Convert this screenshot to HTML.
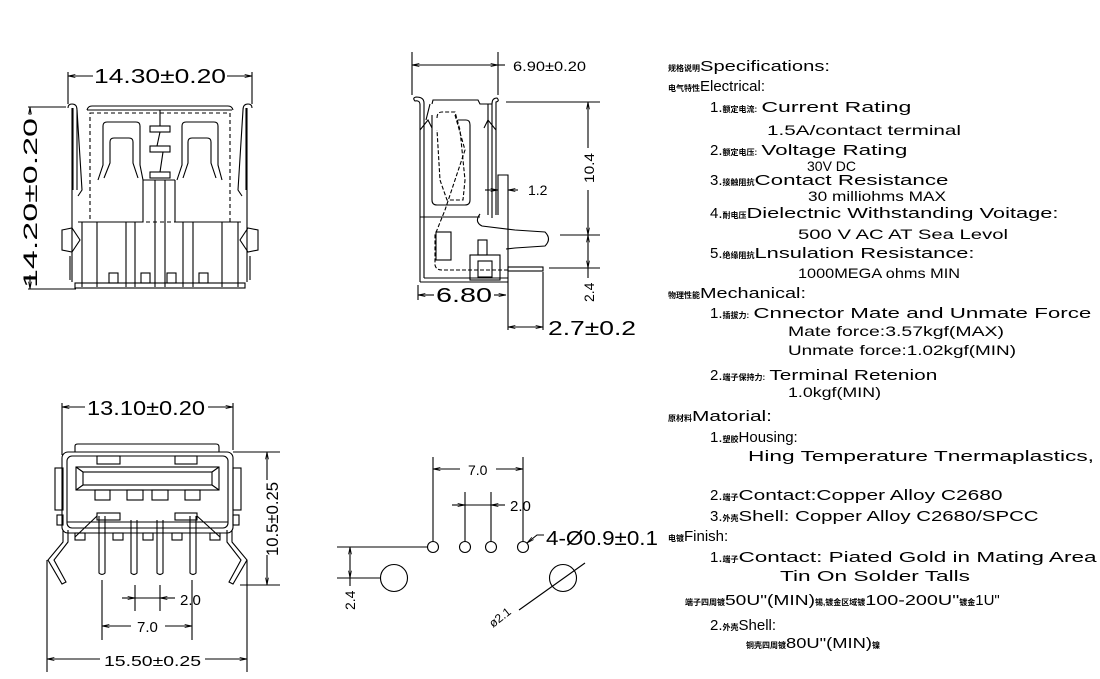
<!DOCTYPE html>
<html><head><meta charset="utf-8"><style>
html,body{margin:0;padding:0;background:#fff;}
svg{display:block;}
text{font-family:"Liberation Sans","Noto Sans CJK SC",sans-serif;fill:#000;}
.c{font-family:"Liberation Sans","Noto Sans CJK SC",sans-serif;font-weight:bold;}
</style></head><body>
<svg width="1100" height="679" viewBox="0 0 1100 679" xmlns="http://www.w3.org/2000/svg">
<defs>
<marker id="a" viewBox="0 0 10 6" refX="10" refY="3" markerWidth="8" markerHeight="4" orient="auto-start-reverse"><path d="M0,1 L10,3 L0,5" fill="none" stroke="#000" stroke-width="1"/></marker>
</defs>
<g fill="none" stroke="#000" stroke-width="1.1">
<!-- ===== top-left view ===== -->
<line x1="68" y1="72" x2="68" y2="104"/><line x1="252" y1="72" x2="252" y2="104"/>
<line x1="68" y1="76" x2="93" y2="76" marker-start="url(#a)"/><line x1="227" y1="76" x2="252" y2="76" marker-end="url(#a)"/>
<line x1="28" y1="107" x2="66" y2="107"/><line x1="28" y1="289" x2="76" y2="289"/>
<line x1="30" y1="107" x2="30" y2="115" marker-start="url(#a)"/><line x1="30" y1="275" x2="30" y2="289" marker-end="url(#a)"/>
<path d="M68,108 Q68,104 72,104 Q77,104 77,110 L77,190 M87,110 Q88,106 92,106 L228,106 Q232,106 233,110 M243,110 Q243,104 248,104 Q252,104 252,108"/>
<path d="M72,108 L72,282 M77,110 L82,190 L78,196 M73,108 L73,190"/>
<path d="M247,108 L247,282 M243,110 L238,190 L242,196 M246,108 L246,190"/>
<path d="M87,110 L232,110"/>
<rect x="90" y="113" width="140" height="109" stroke-dasharray="4,3"/>
<path d="M78,222 L143,222 L143,180 M175,180 L175,222 L241,222"/>
<path d="M143,180 L175,180 M155,180 L155,287 M165,180 L165,287"/>
<path d="M82,222 L82,287 M97,222 L97,287 M126,222 L126,287 M135,222 L135,287 M183,222 L183,287 M193,222 L193,287 M222,222 L222,287 M238,222 L238,287"/>
<rect x="75" y="283" width="170" height="5"/>
<rect x="109" y="273" width="9" height="10"/><rect x="141" y="273" width="9" height="10"/><rect x="167" y="273" width="9" height="10"/><rect x="199" y="273" width="9" height="10"/>
<path d="M98,180 L103,165 L103,126 Q103,122 107,122 L136,122 Q140,122 140,126 L140,165 L143,180"/>
<path d="M104,178 L110,163 L110,142 Q110,138 114,138 L129,138 Q133,138 133,142 L133,163 L138,178"/>
<path d="M177,180 L182,165 L182,126 Q182,122 186,122 L214,122 Q218,122 218,126 L218,165 L222,180"/>
<path d="M183,178 L188,163 L188,142 Q188,138 192,138 L207,138 Q211,138 211,142 L211,163 L216,178"/>
<rect x="150" y="126" width="20" height="6"/><rect x="150" y="146" width="20" height="6"/><rect x="150" y="172" width="20" height="6"/>
<path d="M160,110 L160,126 M160,132 L157,146 M163,152 L160,172"/>
<path d="M62,230 L72,228 L80,240 L72,252 L62,250 Z M248,228 L258,230 L258,250 L248,252 L240,240 Z"/>
<path d="M70,256 L70,280 M250,256 L250,280"/>
<!-- ===== side view ===== -->
<line x1="412" y1="52" x2="412" y2="95"/><line x1="498" y1="52" x2="498" y2="95"/>
<line x1="412" y1="65" x2="498" y2="65" marker-start="url(#a)" marker-end="url(#a)"/>
<line x1="498" y1="65" x2="505" y2="65"/>
<path d="M420,282 L420,105 Q420,100 415,101 Q412,98 416,97 Q424,97 424,103 L424,278"/>
<path d="M432,104 L433,100 L478,100 L480,104 L492,104 Q492,98 497,98 Q500,101 496,102 L496,215 M492,104 L492,218"/>
<path d="M426,120 L430,104 M488,104 L488,215"/>
<path d="M420,130 L428,120 L432,128 M496,130 L488,120 L484,128"/>
<path d="M498,215 L498,175 L508,175 L508,285"/>
<path d="M480,214 Q474,222 482,226 L515,230 L545,232 Q552,239 545,246 L515,248 L506,249"/>
<line x1="420" y1="282" x2="508" y2="282"/><line x1="424" y1="278" x2="508" y2="278"/>
<path d="M432,115 L432,200 Q432,205 437,205 L465,205 Q470,205 470,200 L470,125 Q470,120 466,120 L458,120"/>
<path d="M437,118 Q437,112 442,112 L455,112 L460,130 L465,180 L463,200 L447,200 L440,180 L437,130" stroke-dasharray="4,2"/>
<path d="M455,115 L465,150 L445,210 L435,235 L435,265 Q436,270 442,270 L508,270" stroke-dasharray="4,2"/>
<line x1="420" y1="217" x2="480" y2="217"/>
<rect x="436" y="232" width="15" height="28"/>
<rect x="470" y="255" width="30" height="25"/><rect x="478" y="240" width="9" height="15"/><rect x="478" y="261" width="14" height="16"/>
<rect x="508" y="267" width="35" height="4"/>
<line x1="506" y1="102" x2="600" y2="102"/><line x1="560" y1="235" x2="600" y2="235"/><line x1="549" y1="268" x2="600" y2="268"/>
<line x1="588" y1="102" x2="588" y2="148" marker-start="url(#a)"/><line x1="588" y1="190" x2="588" y2="235" marker-end="url(#a)"/>
<line x1="588" y1="235" x2="588" y2="268" marker-start="url(#a)" marker-end="url(#a)"/><line x1="588" y1="268" x2="588" y2="278"/>
<line x1="485" y1="190" x2="498" y2="190" marker-end="url(#a)"/><line x1="508" y1="190" x2="518" y2="190" marker-start="url(#a)"/>
<line x1="418" y1="285" x2="418" y2="300"/>
<line x1="418" y1="295" x2="434" y2="295" marker-start="url(#a)"/><line x1="494" y1="295" x2="506" y2="295" marker-end="url(#a)"/>
<line x1="508" y1="285" x2="508" y2="330"/><line x1="543" y1="272" x2="543" y2="330"/>
<line x1="508" y1="327" x2="543" y2="327" marker-start="url(#a)" marker-end="url(#a)"/>
<!-- ===== front view ===== -->
<line x1="62" y1="403" x2="62" y2="455"/><line x1="233" y1="403" x2="233" y2="450"/>
<line x1="62" y1="407" x2="85" y2="407" marker-start="url(#a)"/><line x1="208" y1="407" x2="233" y2="407" marker-end="url(#a)"/>
<path d="M75,452 L75,446 Q75,444 78,444 L216,444 Q219,444 219,447 L219,452"/>
<rect x="62" y="452" width="171" height="81" rx="6"/>
<rect x="67" y="456" width="161" height="72" rx="5"/>
<rect x="76" y="467" width="143" height="23"/><rect x="83" y="472" width="129" height="13"/>
<path d="M76,467 L83,472 M219,467 L212,472 M76,490 L83,485 M219,490 L212,485"/>
<rect x="95" y="490" width="15" height="10"/><rect x="127" y="490" width="16" height="10"/><rect x="152" y="490" width="16" height="10"/><rect x="185" y="490" width="15" height="10"/>
<rect x="97" y="456" width="23" height="8"/><rect x="175" y="456" width="22" height="8"/>
<rect x="97" y="513" width="23" height="7"/><rect x="175" y="513" width="22" height="7"/>
<path d="M97,516 L75,537 M197,516 L220,537"/>
<line x1="67" y1="522" x2="228" y2="522"/>
<rect x="55" y="468" width="8" height="42"/><rect x="233" y="468" width="8" height="42"/>
<rect x="57" y="515" width="6" height="10"/><rect x="233" y="515" width="6" height="10"/>
<path d="M99,516 L99,573 Q102,576 105,573 L105,516 M131,520 L131,573 Q134,576 137,573 L137,520 M157,520 L157,573 Q160,576 163,573 L163,520 M190,516 L190,573 Q193,576 196,573 L196,516"/>
<rect x="75" y="533" width="10" height="7"/><rect x="113" y="533" width="10" height="7"/><rect x="143" y="533" width="10" height="7"/><rect x="172" y="533" width="10" height="7"/><rect x="210" y="533" width="10" height="7"/>
<path d="M63,530 L63,542 L48,560 L62,584 L66,582 L54,560 L68,542 L68,530"/>
<path d="M232,530 L232,542 L247,560 L233,584 L229,582 L241,560 L227,542 L227,530"/>
<line x1="233" y1="452" x2="280" y2="452"/><line x1="240" y1="585" x2="280" y2="585"/>
<line x1="267" y1="452" x2="267" y2="480" marker-start="url(#a)"/><line x1="267" y1="555" x2="267" y2="585" marker-end="url(#a)"/>
<line x1="102" y1="580" x2="102" y2="640"/><line x1="192" y1="580" x2="192" y2="640"/>
<line x1="135" y1="585" x2="135" y2="611"/><line x1="160" y1="585" x2="160" y2="611"/>
<line x1="122" y1="598" x2="135" y2="598" marker-end="url(#a)"/><line x1="135" y1="598" x2="160" y2="598"/><line x1="160" y1="598" x2="175" y2="598" marker-start="url(#a)"/>
<line x1="102" y1="626" x2="131" y2="626" marker-start="url(#a)"/><line x1="165" y1="626" x2="192" y2="626" marker-end="url(#a)"/>
<line x1="47" y1="560" x2="47" y2="672"/><line x1="247" y1="560" x2="247" y2="672"/>
<line x1="47" y1="659" x2="100" y2="659" marker-start="url(#a)"/><line x1="205" y1="659" x2="247" y2="659" marker-end="url(#a)"/>
<!-- ===== footprint ===== -->
<circle cx="433" cy="547" r="5.5"/><circle cx="465" cy="547" r="5.5"/><circle cx="491" cy="547" r="5.5"/><circle cx="523" cy="547" r="5.5"/>
<circle cx="394" cy="578" r="13.5"/><circle cx="563" cy="578" r="13.5"/>
<line x1="433" y1="457" x2="433" y2="541"/><line x1="523" y1="457" x2="523" y2="541"/>
<line x1="465" y1="492" x2="465" y2="541"/><line x1="491" y1="492" x2="491" y2="541"/>
<line x1="433" y1="469" x2="460" y2="469" marker-start="url(#a)"/><line x1="496" y1="469" x2="523" y2="469" marker-end="url(#a)"/>
<line x1="452" y1="505" x2="465" y2="505" marker-end="url(#a)"/><line x1="465" y1="505" x2="491" y2="505"/><line x1="491" y1="505" x2="505" y2="505" marker-start="url(#a)"/>
<line x1="337" y1="547" x2="427" y2="547"/><line x1="337" y1="578" x2="380" y2="578"/>
<line x1="350" y1="547" x2="350" y2="578" marker-start="url(#a)" marker-end="url(#a)"/>
<line x1="350" y1="578" x2="350" y2="586"/>
<path d="M527,543 L537,535 L544,535" marker-start="url(#a)"/>
<line x1="519" y1="610" x2="585" y2="563"/>
</g>
<!-- ===== dimension texts ===== -->
<g font-size="20">
<text x="94" y="83" textLength="132" lengthAdjust="spacingAndGlyphs">14.30±0.20</text>
<text transform="translate(37,288) rotate(-90)" font-size="19" textLength="170" lengthAdjust="spacingAndGlyphs">14.20±0.20</text>
<text x="87" y="415" textLength="118" lengthAdjust="spacingAndGlyphs">13.10±0.20</text>
<text x="436" y="302" textLength="56" lengthAdjust="spacingAndGlyphs">6.80</text>
<text x="548" y="335" textLength="88" lengthAdjust="spacingAndGlyphs">2.7±0.2</text>
<text x="546" y="545" textLength="112" lengthAdjust="spacingAndGlyphs">4-Ø0.9±0.1</text>
</g>
<g font-size="14">
<text x="513" y="71" textLength="73" lengthAdjust="spacingAndGlyphs">6.90±0.20</text>
<text x="528" y="195">1.2</text>
<text transform="translate(594,183) rotate(-90)" textLength="30" lengthAdjust="spacingAndGlyphs">10.4</text>
<text transform="translate(594,302) rotate(-90)">2.4</text>
<text transform="translate(278,556) rotate(-90)" font-size="17" textLength="74" lengthAdjust="spacingAndGlyphs">10.5±0.25</text>
<text x="180" y="605" font-size="15">2.0</text>
<text x="137" y="632" font-size="15">7.0</text>
<text x="104" y="666" font-size="15" textLength="97" lengthAdjust="spacingAndGlyphs">15.50±0.25</text>
<text x="468" y="475" font-size="14">7.0</text>
<text x="510" y="511" font-size="15">2.0</text>
<text transform="translate(355,610) rotate(-90)">2.4</text>
<text transform="translate(493,628) rotate(-38)" font-size="12">ø2.1</text>
</g>
<!-- ===== specs ===== -->
<g font-size="15">
<text x="668" y="71"><tspan class="c" font-size="8">规格说明</tspan><tspan textLength="130" lengthAdjust="spacingAndGlyphs">Specifications:</tspan></text>
<text x="668" y="91"><tspan class="c" font-size="8">电气特性</tspan><tspan>Electrical:</tspan></text>
<text x="710" y="112">1.<tspan class="c" font-size="8">额定电流:</tspan> <tspan textLength="150" lengthAdjust="spacingAndGlyphs">Current Rating</tspan></text>
<text x="767" y="135" font-size="14" textLength="194" lengthAdjust="spacingAndGlyphs">1.5A/contact terminal</text>
<text x="710" y="155">2.<tspan class="c" font-size="8">额定电压:</tspan> <tspan textLength="146" lengthAdjust="spacingAndGlyphs">Voltage Rating</tspan></text>
<text x="807" y="171" font-size="14">30V DC</text>
<text x="710" y="185">3.<tspan class="c" font-size="8">接触阻抗</tspan><tspan textLength="194" lengthAdjust="spacingAndGlyphs">Contact Resistance</tspan></text>
<text x="808" y="201" font-size="14" textLength="138" lengthAdjust="spacingAndGlyphs">30 milliohms MAX</text>
<text x="710" y="218">4.<tspan class="c" font-size="8">耐电压</tspan><tspan textLength="312" lengthAdjust="spacingAndGlyphs">Dielectnic Withstanding Voitage:</tspan></text>
<text x="798" y="239" font-size="14" textLength="210" lengthAdjust="spacingAndGlyphs">500 V AC AT Sea Levol</text>
<text x="710" y="258">5.<tspan class="c" font-size="8">绝缘阻抗</tspan><tspan textLength="220" lengthAdjust="spacingAndGlyphs">Lnsulation Resistance:</tspan></text>
<text x="798" y="278" font-size="14" textLength="162" lengthAdjust="spacingAndGlyphs">1000MEGA ohms MIN</text>
<text x="668" y="298"><tspan class="c" font-size="8">物理性能</tspan><tspan textLength="106" lengthAdjust="spacingAndGlyphs">Mechanical:</tspan></text>
<text x="710" y="318">1.<tspan class="c" font-size="8">插拔力:</tspan> <tspan textLength="338" lengthAdjust="spacingAndGlyphs">Cnnector Mate and Unmate Force</tspan></text>
<text x="788" y="336" font-size="14" textLength="216" lengthAdjust="spacingAndGlyphs">Mate force:3.57kgf(MAX)</text>
<text x="788" y="355" font-size="14" textLength="228" lengthAdjust="spacingAndGlyphs">Unmate force:1.02kgf(MIN)</text>
<text x="710" y="380">2.<tspan class="c" font-size="8">端子保持力:</tspan> <tspan textLength="168" lengthAdjust="spacingAndGlyphs">Terminal Retenion</tspan></text>
<text x="788" y="397" font-size="14" textLength="93" lengthAdjust="spacingAndGlyphs">1.0kgf(MIN)</text>
<text x="668" y="421"><tspan class="c" font-size="8">原材料</tspan><tspan textLength="80" lengthAdjust="spacingAndGlyphs">Matorial:</tspan></text>
<text x="710" y="442">1.<tspan class="c" font-size="8">塑胶</tspan><tspan>Housing:</tspan></text>
<text x="748" y="461" textLength="346" lengthAdjust="spacingAndGlyphs">Hing Temperature  Tnermaplastics,</text>
<text x="710" y="500">2.<tspan class="c" font-size="8">端子</tspan><tspan textLength="264" lengthAdjust="spacingAndGlyphs">Contact:Copper Alloy C2680</tspan></text>
<text x="710" y="521">3.<tspan class="c" font-size="8">外壳</tspan><tspan textLength="300" lengthAdjust="spacingAndGlyphs">Shell: Copper Alloy C2680/SPCC</tspan></text>
<text x="668" y="541"><tspan class="c" font-size="8">电镀</tspan><tspan>Finish:</tspan></text>
<text x="710" y="562">1.<tspan class="c" font-size="8">端子</tspan><tspan textLength="358" lengthAdjust="spacingAndGlyphs">Contact: Piated Gold in Mating Area</tspan></text>
<text x="780" y="581" textLength="190" lengthAdjust="spacingAndGlyphs">Tin On Solder Talls</text>
<text x="685" y="605"><tspan class="c" font-size="8">端子四周镀</tspan><tspan textLength="90" lengthAdjust="spacingAndGlyphs">50U"(MIN)</tspan><tspan class="c" font-size="8">锡,镀金区域镀</tspan><tspan textLength="94" lengthAdjust="spacingAndGlyphs">100-200U"</tspan><tspan class="c" font-size="8">镀金</tspan><tspan>1U"</tspan></text>
<text x="710" y="630">2.<tspan class="c" font-size="8">外壳</tspan><tspan>Shell:</tspan></text>
<text x="746" y="648"><tspan class="c" font-size="8">铜壳四周镀</tspan><tspan textLength="86" lengthAdjust="spacingAndGlyphs">80U"(MIN)</tspan><tspan class="c" font-size="8">镍</tspan></text>
</g>
</svg>
</body></html>
